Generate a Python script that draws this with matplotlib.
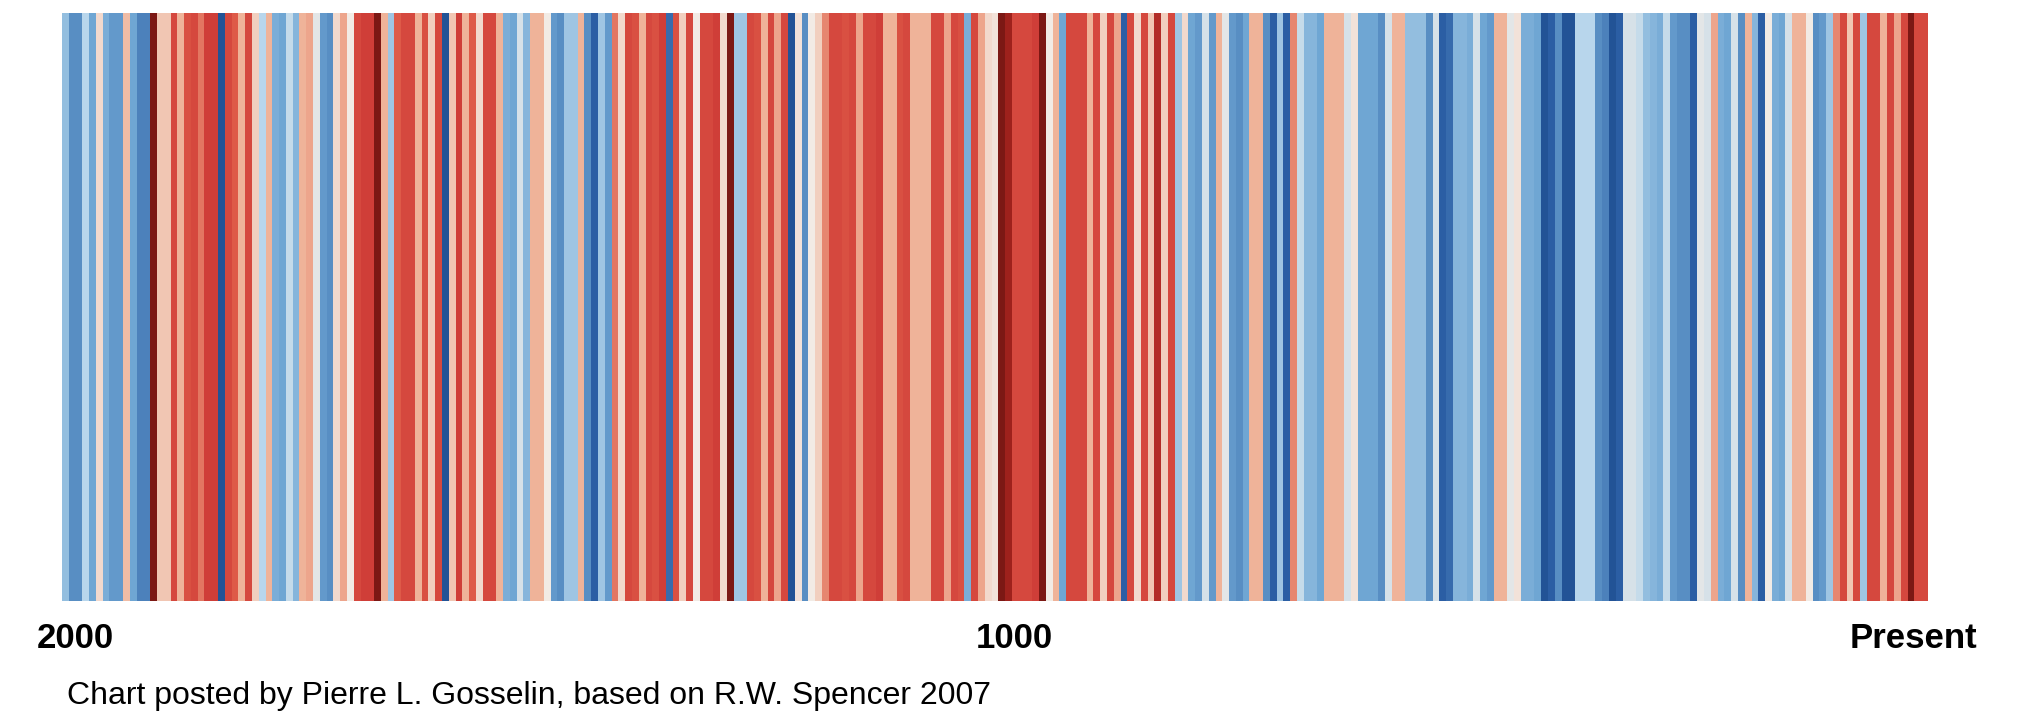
import numpy as np
import matplotlib
matplotlib.use("Agg")
import matplotlib.pyplot as plt
from matplotlib.colors import LinearSegmentedColormap

# stripe anomalies (relative units, -1 cold ... +1 warm), oldest -> present
seg01 = [-0.35, -0.6, -0.6, -0.2, -0.5, 0.1, -0.45, -0.55, -0.55, 0.25, -0.5, -0.65, -0.65,
         0.95, 0.2, 0.2, 0.7, 0.3, 0.65, 0.7, 0.5, 0.75, 0.75, -0.85, 0.7]
seg02 = [0.6, 0.3, 0.7, 0.15, -0.2, 0.3, -0.45, -0.5, -0.15, -0.4, 0.3, 0.35, -0.05, -0.55,
         -0.6, 0.1, 0.35, 0.0, 0.7, 0.75, 0.75, 0.95, 0.3, -0.3, 0.6]
seg03 = [0.7, 0.7, 0.3, 0.65, 0.15, 0.7, -0.85, 0.2, 0.75, 0.3, 0.6, 0.1, 0.7, 0.7, 0.3,
         -0.45, -0.5, -0.1, -0.4, 0.3, 0.3, 0.0, -0.55, -0.6, -0.3]
seg04 = [-0.3, 0.3, -0.6, -0.8, -0.3, -0.55, 0.5, 0.1, 0.7, 0.65, 0.3, 0.7, 0.65, 0.75,
         -0.75, 0.65, 0.15, 0.7, 0.0, 0.7, 0.7, 0.75, 0.1, 0.95, -0.3]
seg05 = [-0.3, 0.7, 0.65, 0.3, 0.7, 0.35, 0.7, -0.85, 0.05, -0.6, 0.0, 0.15, 0.45, 0.7, 0.7,
         0.65, 0.7, 0.35, 0.7, 0.7, 0.75, 0.3, 0.3, 0.65, 0.7]
seg06 = [0.3, 0.3, 0.3, 0.7, 0.7, 0.35, 0.7, 0.65, -0.45, 0.7, 0.35, 0.1, 0.05, 0.95, 0.9,
         0.7, 0.7, 0.7, 0.75, 0.95, 0.0, 0.3, -0.5, 0.7, 0.7]
seg07 = [0.7, 0.3, 0.7, 0.15, 0.7, 0.35, -0.8, 0.7, 0.1, 0.7, 0.2, 0.85, 0.15, 0.7, -0.3,
         0.1, -0.5, -0.55, -0.1, -0.55, 0.3, -0.05, -0.55, -0.6, -0.5]
seg08 = [0.3, 0.3, -0.6, -0.8, -0.3, -0.8, 0.45, -0.15, -0.4, -0.4, -0.5, 0.3, 0.3, 0.3,
         -0.1, 0.05, -0.5, -0.5, -0.5, -0.6, -0.1, 0.3, 0.3, -0.35, -0.35]
seg09 = [-0.35, -0.6, -0.1, -0.8, -0.75, -0.4, -0.4, -0.45, -0.1, -0.5, -0.55, 0.3, 0.3,
         -0.05, 0.05, -0.45, -0.45, -0.5, -0.85, -0.8, -0.6, -0.85, -0.85, -0.2, -0.2]
seg10 = [-0.2, -0.6, -0.65, -0.85, -0.8, -0.1, -0.1, -0.15, -0.35, -0.4, -0.45, -0.15, -0.55,
         -0.6, -0.6, -0.8, -0.05, -0.1, 0.35, -0.45, -0.5, -0.1, -0.6, 0.3, -0.4]
seg11 = [-0.8, 0.0, -0.45, -0.5, -0.1, 0.3, 0.3, 0.0, -0.6, -0.55, -0.3, 0.45, 0.7, 0.2,
         0.7, -0.3, 0.7, 0.7, 0.3, 0.7, 0.35, 0.7, 0.95, 0.7, 0.7]

tick_labels = ["2000", "1000", "Present"]
caption = "Chart posted by Pierre L. Gosselin, based on R.W. Spencer 2007"

anom = np.array(seg01 + seg02 + seg03 + seg04 + seg05 + seg06 + seg07 + seg08 + seg09 + seg10 + seg11)

stripes = LinearSegmentedColormap.from_list("stripes", [
    (0.00, "#08306b"), (0.10, "#2c5fa6"), (0.25, "#6fa6d3"), (0.40, "#b8d6ec"),
    (0.50, "#f3ece6"), (0.65, "#f0b49a"), (0.80, "#de5a48"), (0.875, "#d2403a"),
    (0.95, "#a3231e"), (1.00, "#5a0f0c")])

fig = plt.figure(figsize=(20.26, 7.24), dpi=100)
ax = fig.add_axes([0.0306, 0.170, 0.921, 0.812])
ax.imshow(anom[np.newaxis, :], cmap=stripes, vmin=-1, vmax=1, aspect="auto",
          interpolation="nearest")
ax.set_axis_off()

fam = ["Liberation Sans", "DejaVu Sans"]
lab = dict(family=fam, fontweight="bold", fontsize=25, va="center")
fig.text(0.0180, 0.118, tick_labels[0], ha="left", **lab)
fig.text(0.5005, 0.118, tick_labels[1], ha="center", **lab)
fig.text(0.9760, 0.118, tick_labels[2], ha="right", **lab)
fig.text(0.033, 0.038, caption, ha="left", va="center", fontsize=23, family=fam)

fig.savefig("out.png", dpi=100)
